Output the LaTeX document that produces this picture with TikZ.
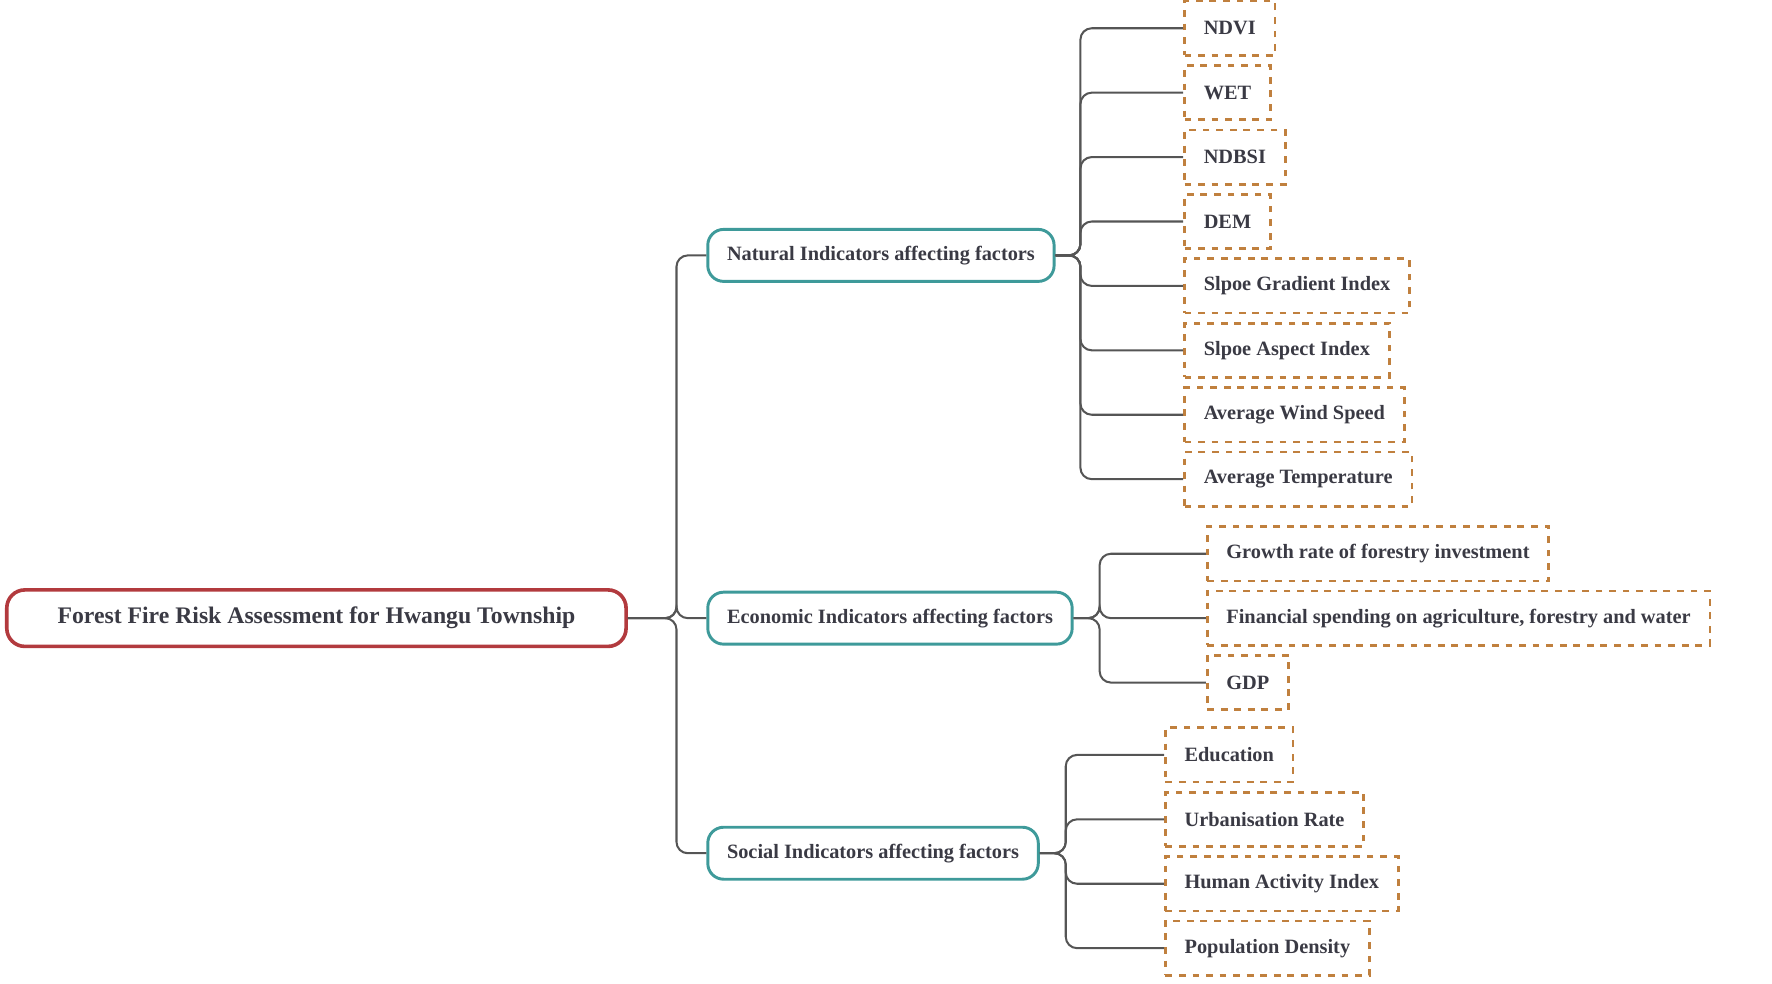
\documentclass[tikz,border=0pt]{standalone}
\usepackage{fontspec}
\setmainfont{Liberation Serif}
\usetikzlibrary{positioning}
\definecolor{rootred}{HTML}{B23A3E}
\definecolor{branchteal}{HTML}{3E9A9A}
\definecolor{leafbrown}{HTML}{C0803E}
\definecolor{linegray}{HTML}{555555}
\definecolor{textgray}{HTML}{3A3A44}
\begin{document}
\begin{tikzpicture}[x=0.5pt, y=-0.5pt,
        rootbox/.style={rectangle, rounded corners=8pt, draw=rootred, line width=1.6pt, minimum width=274pt, minimum height=25pt, font=\fontsize{10.5}{12}\selectfont\bfseries, text=textgray},
        branch/.style={rectangle, rounded corners=7pt, draw=branchteal, line width=1.3pt, minimum height=23pt, inner xsep=8.5pt, font=\fontsize{9}{11}\selectfont\bfseries, text=textgray},
        leaf/.style={rectangle, draw=leafbrown, dashed, line width=1.2pt, minimum height=24pt, inner xsep=8.5pt, anchor=west, font=\fontsize{9}{11}\selectfont\bfseries, text=textgray},
        conn/.style={draw=linegray, line width=0.9pt, rounded corners=5pt},
    ]
        \useasboundingbox (0,0) rectangle (1568,870);
        % root and main branches
        \node[rootbox] (root) at (280,547) {Forest Fire Risk Assessment for Hwangu Township};
        \node[branch, anchor=west] (nat) at (625,226) {Natural Indicators affecting factors};
        \node[branch, anchor=west] (eco) at (625,547) {Economic Indicators affecting factors};
        \node[branch, anchor=west] (soc) at (625,755) {Social Indicators affecting factors};
        \foreach \b in {nat,eco,soc}
            \draw[conn] (root.east) -- ++(43,0) |- (\b.west);
        % natural leaves
        \foreach \t [count=\i] in {NDVI,WET,NDBSI,DEM,Slpoe Gradient Index,Slpoe Aspect Index,Average Wind Speed,Average Temperature} {
            \node[leaf] (n\i) at (1047,{25+57*(\i-1)}) {\t};
            \draw[conn] (nat.east) -- ++(22,0) |- (n\i.west);
        }
        % economic leaves
        \foreach \t [count=\i] in {Growth rate of forestry investment,{Financial spending on agriculture, forestry and water},GDP} {
            \node[leaf] (e\i) at (1067,{490+57*(\i-1)}) {\t};
            \draw[conn] (eco.east) -- ++(23,0) |- (e\i.west);
        }
        % social leaves
        \foreach \t [count=\i] in {Education,Urbanisation Rate,Human Activity Index,Population Density} {
            \node[leaf] (s\i) at (1030,{668+57*(\i-1)}) {\t};
            \draw[conn] (soc.east) -- ++(23,0) |- (s\i.west);
        }
\end{tikzpicture}
\end{document}
